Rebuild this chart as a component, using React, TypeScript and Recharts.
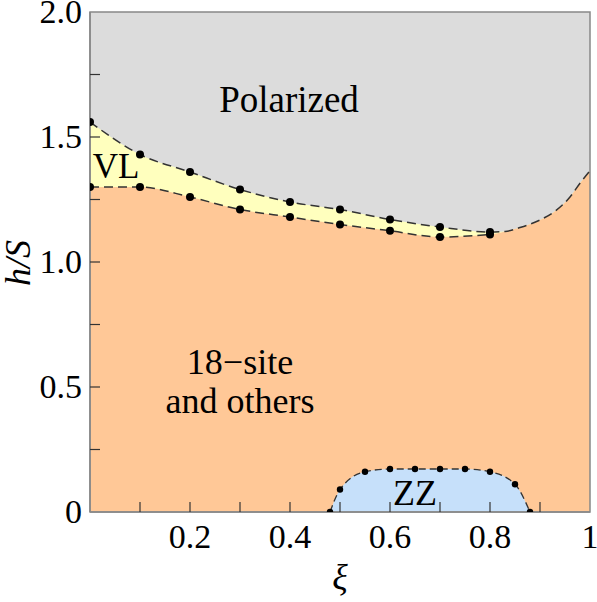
import React from 'react';
import {
  ComposedChart, Area, Line, Scatter, XAxis, YAxis, CartesianGrid, ReferenceArea,
} from 'recharts';

// ---- data ----
const upperXi = [0, 0.1, 0.2, 0.3, 0.4, 0.5, 0.6, 0.7, 0.8];
const upperH = [1.56, 1.43, 1.36, 1.29, 1.24, 1.21, 1.17, 1.14, 1.12];
const tailXi = [0.83, 0.86, 0.9, 0.93, 0.96, 0.98, 1.0];
const tailH = [1.122, 1.138, 1.168, 1.203, 1.26, 1.315, 1.365];
const lowerXi = [0, 0.1, 0.2, 0.3, 0.4, 0.5, 0.6, 0.7, 0.8];
const lowerH = [1.30, 1.30, 1.26, 1.21, 1.18, 1.15, 1.125, 1.10, 1.11];
const zzXi = [0.48, 0.5, 0.55, 0.6, 0.65, 0.7, 0.75, 0.8, 0.85, 0.88];
const zzH = [0, 0.09, 0.161, 0.172, 0.172, 0.172, 0.172, 0.161, 0.111, 0];
const xTicks = [0.1, 0.2, 0.3, 0.4, 0.5, 0.6, 0.7, 0.8, 0.9, 1];
const xLabels = [0.2, 0.4, 0.6, 0.8, 1];
const yTicks = [0, 0.25, 0.5, 0.75, 1, 1.25, 1.5, 1.75, 2];
const yLabels: Record<string, string> = { '0': '0', '0.5': '0.5', '1': '1.0', '1.5': '1.5', '2': '2.0' };

const zip = (xs: number[], ys: number[]) => xs.map((x, i) => ({ x, y: ys[i] }));
const upperPts = zip(upperXi, upperH);
const polarizedCurve = [...upperPts, ...zip(tailXi, tailH)];
const lowerPts = zip(lowerXi, lowerH);
const orangeCurve = [...lowerPts, ...zip(tailXi, tailH)];
const zzPts = zip(zzXi, zzH);

const FONT = '"Liberation Serif", "Times New Roman", serif';
const TICK_LEN = 10;
const tickText = { fontFamily: FONT, fontSize: 34 } as React.CSSProperties;

const XTick = (props: any) => {
  const { x, y, payload } = props;
  const v = payload.value;
  const lab = xLabels.some((l) => Math.abs(l - v) < 1e-6);
  return (
    <g>
      {v < 0.999 && <line x1={x} y1={y} x2={x} y2={y - TICK_LEN} stroke="#333" strokeWidth={1.2} />}
      {lab && (
        <text x={x} y={y + 36} textAnchor="middle" fill="#000" style={tickText}>
          {String(v)}
        </text>
      )}
    </g>
  );
};

const YTick = (props: any) => {
  const { x, y, payload } = props;
  const v = payload.value;
  const lab = yLabels[String(v)];
  return (
    <g>
      {v > 0.001 && v < 1.999 && <line x1={x} y1={y} x2={x + TICK_LEN} y2={y} stroke="#333" strokeWidth={1.2} />}
      {lab && (
        <text x={x - 8} y={y + 11} textAnchor="end" fill="#000" style={tickText}>
          {lab}
        </text>
      )}
    </g>
  );
};

const Dot = (r: number) => (props: any) => <circle cx={props.cx} cy={props.cy} r={r} fill="#000" />;

const lbl = (size: number, italic = false) =>
  ({ fontFamily: FONT, fontSize: size, fontStyle: italic ? 'italic' : 'normal' } as React.CSSProperties);

export default function App() {
  return (
    <div style={{ position: 'absolute', left: 0, top: 0, width: 597, height: 602, background: '#fff' }}>
      <ComposedChart width={597} height={602} margin={{ top: 12, right: 7, bottom: 0, left: 0 }}>
        <CartesianGrid horizontal={false} vertical={false} fill="#dcdcdc" stroke="none" />
        <XAxis
          type="number"
          dataKey="x"
          domain={[0, 1]}
          ticks={xTicks}
          allowDataOverflow
          height={90}
          tickSize={0}
          tickMargin={0}
          tickLine={false}
          axisLine={{ stroke: '#888', strokeWidth: 1.5 }}
          tick={<XTick />}
          interval={0}
        />
        <YAxis
          type="number"
          dataKey="y"
          domain={[0, 2]}
          ticks={yTicks}
          allowDataOverflow
          width={90}
          tickSize={0}
          tickMargin={0}
          tickLine={false}
          axisLine={{ stroke: '#888', strokeWidth: 1.5 }}
          tick={<YTick />}
          interval={0}
        />
        <Area data={polarizedCurve} dataKey="y" type="monotone" fill="#ffffbe" fillOpacity={1} stroke="none" isAnimationActive={false} />
        <Area data={orangeCurve} dataKey="y" type="monotone" fill="#ffc897" fillOpacity={1} stroke="none" isAnimationActive={false} />
        <Area data={zzPts} dataKey="y" type="monotone" fill="#c6e0fa" fillOpacity={1} stroke="none" isAnimationActive={false} />
        <Line data={polarizedCurve} dataKey="y" type="monotone" stroke="#333" strokeWidth={1.5} strokeDasharray="9 5" dot={false} isAnimationActive={false} />
        <Line data={lowerPts} dataKey="y" type="monotone" stroke="#333" strokeWidth={1.5} strokeDasharray="9 5" dot={false} isAnimationActive={false} />
        <Line data={zzPts} dataKey="y" type="monotone" stroke="#333" strokeWidth={1.3} strokeDasharray="7 4" dot={false} isAnimationActive={false} />
        <Scatter data={upperPts} dataKey="y" shape={Dot(4)} isAnimationActive={false} />
        <Scatter data={lowerPts} dataKey="y" shape={Dot(4)} isAnimationActive={false} />
        <Scatter data={zzPts} dataKey="y" shape={Dot(3.2)} isAnimationActive={false} />
        <ReferenceArea x1={0} x2={1} y1={0} y2={2} fill="none" stroke="#888" strokeWidth={1.5} />
      </ComposedChart>
      <svg width={597} height={602} style={{ position: 'absolute', left: 0, top: 0, pointerEvents: 'none' }}>
        <g fill="#000">
          <text x={289} y={112} textAnchor="middle" style={lbl(37)}>Polarized</text>
          <text x={116} y={178} textAnchor="middle" style={lbl(35)}>VL</text>
          <text x={240} y={374} textAnchor="middle" style={lbl(36)}>18−site</text>
          <text x={240} y={413} textAnchor="middle" style={lbl(36)}>and others</text>
          <text x={415} y={505} textAnchor="middle" style={lbl(36)}>ZZ</text>
          <text x={340} y={589} textAnchor="middle" style={lbl(36, true)}>ξ</text>
          <text x={0} y={0} textAnchor="middle" transform="translate(30,263) rotate(-90)" style={lbl(36, true)}>h/S</text>
        </g>
      </svg>
    </div>
  );
}
